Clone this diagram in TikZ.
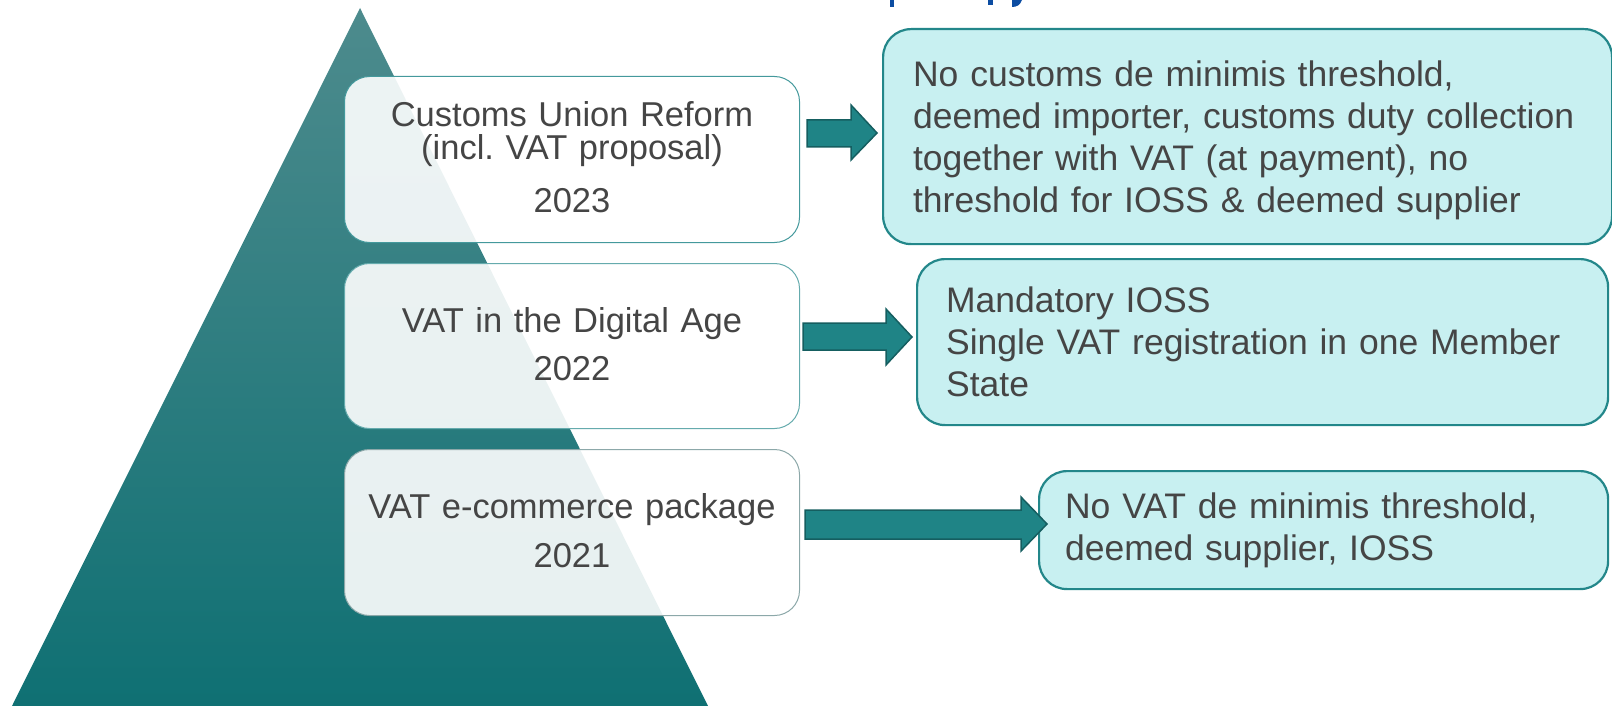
\documentclass[tikz,border=0pt]{standalone}
\usepackage{fontspec}
\setmainfont{Liberation Sans}
\frenchspacing
\definecolor{txt}{HTML}{454545}
\definecolor{tritop}{HTML}{4D8B8D}
\definecolor{trimid}{HTML}{1A797C}
\definecolor{tribot}{HTML}{0F7073}
\definecolor{rfill}{HTML}{C8F0F1}
\definecolor{rdraw}{HTML}{23878A}
\definecolor{afill}{HTML}{1F8486}
\definecolor{adraw}{HTML}{155E60}
\definecolor{ttlblue}{HTML}{0C4DA2}
\begin{document}
\begin{tikzpicture}[x=1pt,y=-1pt,
  leftbox/.style={draw, rounded corners=25pt, fill=white, fill opacity=0.9, text opacity=1,
    line width=1pt, text=txt, align=center, inner xsep=10pt, inner ysep=0pt,
    text width=435pt, minimum height=#1, anchor=north west,
    font=\fontsize{34.5}{33}\selectfont},
  rightbox/.style={draw=rdraw, fill=rfill, rounded corners=28pt, line width=2.2pt,
    text=txt, align=left, inner ysep=0pt, anchor=north west,
    font=\fontsize{35.5}{42}\selectfont},
  blockarrow/.style={fill=afill, draw=adraw, line width=1.5pt, line join=miter}]
\useasboundingbox (0,0) rectangle (1612,706);
% title fragments (cut off at top)
\fill[ttlblue] (890,0) rectangle (894,7);
\fill[ttlblue] (988,0) rectangle (993,5);
\fill[ttlblue] (1012,0) -- (1022,0) .. controls (1020,5) and (1017,7) .. (1012,7) -- cycle;
% pyramid
\shade[top color=tritop, middle color=trimid, bottom color=tribot]
  (360,8) -- (12,706) -- (708,706) -- cycle;
% left boxes
\node[leftbox=166pt, draw=rdraw!85] (b1) at (344,76)
  {Customs Union Reform\\(incl. VAT proposal)\\[20pt]2023\rule[-4pt]{0pt}{4pt}};
\node[leftbox=165pt, draw=rdraw!70] (b2) at (344,263)
  {VAT in the Digital Age\\[15pt]2022\rule[-4pt]{0pt}{4pt}};
\node[leftbox=166pt, draw=rdraw!40!gray!70] (b3) at (344,449)
  {VAT e-commerce package\\[16pt]2021\rule[-4pt]{0pt}{4pt}};
% right boxes
\node[rightbox, inner xsep=30pt, text width=669pt, minimum height=215pt] (r1) at (882,28)
  {\rule{0pt}{34pt}No customs de minimis threshold,\\deemed importer, customs duty collection\\together with VAT (at payment), no\\threshold for IOSS \& deemed supplier};
\node[rightbox, inner xsep=29pt, text width=633pt, minimum height=166pt] (r2) at (916,258)
  {Mandatory IOSS\\Single VAT registration in one Member\\State};
\node[rightbox, inner xsep=26pt, text width=517pt, minimum height=118pt] (r3) at (1038,470)
  {No VAT de minimis threshold,\\deemed supplier, IOSS};
% block arrows
\draw[blockarrow] (807,120) -- (851,120) -- (851,105) -- (877,133) -- (851,160) -- (851,147) -- (807,147) -- cycle;
\draw[blockarrow] (803,323) -- (886,323) -- (886,309) -- (912,337) -- (886,365) -- (886,350) -- (803,350) -- cycle;
\draw[blockarrow] (805,510) -- (1021,510) -- (1021,497) -- (1047,524) -- (1021,551) -- (1021,539) -- (805,539) -- cycle;
\end{tikzpicture}
\end{document}
